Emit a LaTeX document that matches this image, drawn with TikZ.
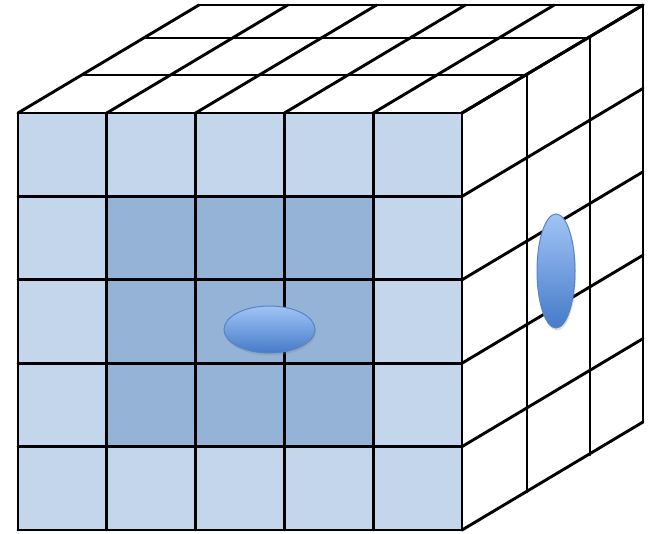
\documentclass[tikz,border=0pt]{standalone}
\usetikzlibrary{shadows}
\definecolor{cellLight}{HTML}{C4D6EB}
\definecolor{cellDark}{HTML}{95B3D7}
\definecolor{blobTop}{HTML}{A2C4F6}
\definecolor{blobBottom}{HTML}{457BC9}
\definecolor{blobEdge}{HTML}{5685C6}
\tikzset{
  grid line/.style={draw=black, line width=2.9pt, line cap=round, line join=round},
  light cell/.style={fill=cellLight},
  dark cell/.style={fill=cellDark},
  blob/.style={draw=blobEdge, line width=1pt, top color=blobTop, bottom color=blobBottom,
    drop shadow={opacity=0.25, shadow xshift=1pt, shadow yshift=-2.5pt}}
}

\begin{document}
\begin{tikzpicture}[x=1pt, y=-1pt]
\useasboundingbox[fill=white] (0,0) rectangle (652,533);
\def\cw{88.8}
\def\ch{83.4}

% --- Front face (5 x 5 cells) ---
\coordinate (frontNW) at (18,113);
\coordinate (frontNE) at (462,113);
\coordinate (frontSW) at (18,530);
\coordinate (frontSE) at (462,530);
\fill[light cell] (frontNW) rectangle (frontSE);
\fill[dark cell] (18+\cw,113+\ch) rectangle (18+4*\cw,113+4*\ch);
\foreach \i in {0,...,5} {
    \draw[grid line] (18+\i*\cw,113) -- (18+\i*\cw,530);
    \draw[grid line] (18,113+\i*\ch) -- (462,113+\i*\ch);
}

% --- Top face (depth 3) ---
\foreach \i in {0,...,5} {
    \draw[grid line] (18+\i*\cw,113) -- ++(181,-108);
}
\foreach \dx/\dy in {65/38, 128/75, 181/108} {
    \draw[grid line] (18+\dx,113-\dy) -- (462+\dx,113-\dy);
}

% --- Right face (depth 3) ---
\foreach \j in {0,...,5} {
    \draw[grid line] (462,113+\j*\ch) -- ++(181,-108);
}
\foreach \dx/\dy in {65/38, 128/75, 181/108} {
    \draw[grid line] (462+\dx,113-\dy) -- (462+\dx,530-\dy);
}

% --- Blobs ---
\path[blob] (269.5,329.5) ellipse [x radius=45.5, y radius=23.5];
\path[blob] (556,271) ellipse [x radius=19, y radius=57];

\end{tikzpicture}
\end{document}
